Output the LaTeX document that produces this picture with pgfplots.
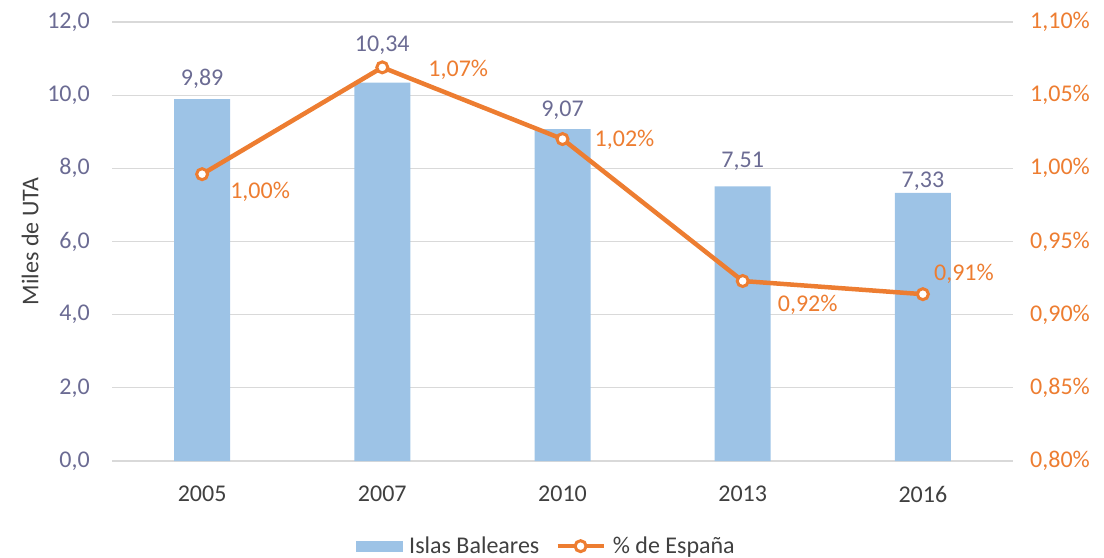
\documentclass[border=0pt]{standalone}
\usepackage{fontspec}
\setmainfont{Carlito}
\usepackage{pgfplots}
\pgfplotsset{compat=1.18}
\usepackage{pgfplotstable}
\definecolor{barblue}{HTML}{9DC3E6}
\definecolor{lineor}{HTML}{ED7D31}
\definecolor{ticklab}{HTML}{6B6B93}
\definecolor{darkg}{HTML}{404040}
\definecolor{gridg}{HTML}{D9D9D9}
\pgfplotsset{/pgf/number format/assume math mode=true}
\pgfplotsset{
  barleg/.style={legend image code/.code={\fill[barblue] (0bp,-5bp) rectangle (46bp,5bp);}},
  lineleg/.style={legend image code/.code={\draw[mark repeat=2,mark phase=2,##1] plot coordinates {(0bp,0bp) (23bp,0bp) (46bp,0bp)};}},
}

\pgfplotstableread{
x val dy
0 9.89 20
1 10.34 37
2 9.07 19
3 7.51 25
4 7.33 12
}\bardata

\pgfplotstableread{
x pct dx dy
0 0.996 58 -18
1 1.069 76 -2
2 1.020 62 -1
3 0.923 65 -24
4 0.914 41 20
}\linedata

\begin{document}
\begin{tikzpicture}[font=\fontsize{24bp}{28bp}\selectfont]
\useasboundingbox (0,0) rectangle (1104bp,558bp);
\begin{axis}[
  at={(112bp,97bp)}, anchor=south west,
  scale only axis, width=901bp, height=439bp,
  xmin=-0.5, xmax=4.5, ymin=0, ymax=12,
  xtick={0,1,2,3,4}, xticklabels={2005,2007,2010,2013,2016},
  ytick={0,2,4,6,8,10,12},
  axis line style={draw=none}, tick style={draw=none},
  ymajorgrids, grid style={gridg, line width=1.3bp},
  yticklabel style={/pgf/number format/.cd, fixed, fixed zerofill, precision=1, use comma, /tikz/.cd,
    color=ticklab, anchor=east, inner sep=0pt, xshift=-22bp},
  xticklabel style={color=darkg, anchor=center, inner sep=0pt, yshift=-33bp},
  ylabel={Miles de UTA},
  ylabel style={at={(axis description cs:-0.091,0.5)}, anchor=center, color=darkg},
  clip=false,
]
\addplot[ybar, bar width=56bp, fill=barblue, draw=none,
  visualization depends on={\thisrow{dy}\as\bdy},
  nodes near coords={\pgfmathprintnumber[fixed,fixed zerofill,precision=2,use comma]{\pgfplotspointmeta}},
  every node near coord/.append style={color=ticklab, anchor=center, yshift=\bdy bp, inner sep=0pt}
] table[x=x, y=val] {\bardata};
\end{axis}
\begin{axis}[
  at={(112bp,97bp)}, anchor=south west,
  scale only axis, width=901bp, height=439bp,
  xmin=-0.5, xmax=4.5, ymin=0.80, ymax=1.10,
  axis y line*=right, hide x axis,
  axis line style={draw=none}, tick style={draw=none},
  ytick={0.80,0.85,0.90,0.95,1.00,1.05,1.10},
  yticklabel={\pgfmathprintnumber[fixed,fixed zerofill,precision=2,use comma]{\tick}\%},
  yticklabel style={color=lineor, anchor=west, inner sep=0pt, xshift=17bp},
  clip=false,
  legend style={at={(0.482,-0.194)}, anchor=center, draw=none, fill=none,
    legend columns=2, text=darkg,
    /tikz/every odd column/.append style={column sep=5bp},
    /tikz/every even column/.append style={column sep=14bp}},
]
\addlegendimage{barleg}
\addlegendentry{Islas Baleares}
\addplot[color=lineor, line width=4.5bp, mark=*, mark size=5.5bp,
  mark options={fill=white, draw=lineor, line width=3bp}, lineleg,
  visualization depends on={\thisrow{dx}\as\mydx},
  visualization depends on={\thisrow{dy}\as\mydy},
  nodes near coords={\pgfmathprintnumber[fixed,fixed zerofill,precision=2,use comma]{\pgfplotspointmeta}\%},
  every node near coord/.append style={color=lineor, anchor=center, inner sep=0pt, xshift=\mydx bp, yshift=\mydy bp}
] table[x=x, y=pct] {\linedata};
\addlegendentry{\% de España}
\end{axis}
\end{tikzpicture}
\end{document}
